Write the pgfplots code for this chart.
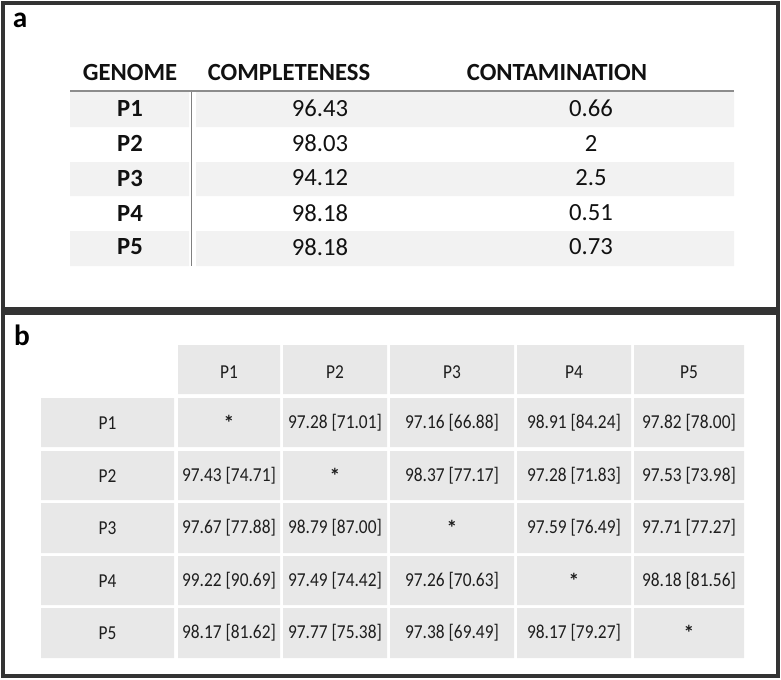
\documentclass[border=0pt]{standalone}
\usepackage{fontspec}
\setmainfont{Carlito}
\newfontfamily\narrowfont[FakeStretch=0.88]{Carlito}
\usepackage{pgfplots}
\pgfplotsset{compat=1.18}
\usepackage{pgfplotstable}
\definecolor{bord}{HTML}{333333}
\definecolor{bandA}{HTML}{F2F2F2}
\definecolor{cellB}{HTML}{E8E8E8}
\definecolor{txtA}{HTML}{111111}
\definecolor{txtB}{HTML}{1E1E1E}
\pgfplotsset{txt/.style={only marks, mark=none, nodes near coords, point meta=explicit symbolic,
  nodes near coords align=center,
  every node near coord/.append style={anchor=center, inner sep=0pt, #1}}}

% panel labels
\pgfplotstableread[col sep=comma, row sep=\\]{
x,y,label\\
20,20,a\\
22,335,b\\
}\panellabels

% panel a header
\pgfplotstableread[col sep=comma, row sep=\\]{
x,y,label\\
130,72,GENOME\\
289,72,COMPLETENESS\\
557,72,CONTAMINATION\\
130,108,P1\\
130,143,P2\\
130,178,P3\\
130,213,P4\\
130,247,P5\\
}\tabAbold

% panel a values: completeness (x=320) and contamination (x=591)
\pgfplotstableread[col sep=comma, row sep=\\]{
x,y,label\\
320,108,96.43\\
320,143,98.03\\
320,178,94.12\\
320,213,98.18\\
320,247,98.18\\
591,108,0.66\\
591,143,2\\
591,178,2.5\\
591,213,0.51\\
591,247,0.73\\
}\tabAvals

% panel b
\pgfplotstableread[col sep=comma, row sep=\\]{
x,y,label\\
229,372,P1\\
335,372,P2\\
452,372,P3\\
574,372,P4\\
689,372,P5\\
107.5,423,P1\\
107.5,476,P2\\
107.5,528,P3\\
107.5,581,P4\\
107.5,633,P5\\
335,423,97.28 [71.01]\\
452,423,97.16 [66.88]\\
574,423,98.91 [84.24]\\
689,423,97.82 [78.00]\\
229,476,97.43 [74.71]\\
452,476,98.37 [77.17]\\
574,476,97.28 [71.83]\\
689,476,97.53 [73.98]\\
229,528,97.67 [77.88]\\
335,528,98.79 [87.00]\\
574,528,97.59 [76.49]\\
689,528,97.71 [77.27]\\
229,581,99.22 [90.69]\\
335,581,97.49 [74.42]\\
452,581,97.26 [70.63]\\
689,581,98.18 [81.56]\\
229,633,98.17 [81.62]\\
335,633,97.77 [75.38]\\
452,633,97.38 [69.49]\\
574,633,98.17 [79.27]\\
}\tabB

% diagonal (self comparison) cells
\pgfplotstableread[col sep=comma, row sep=\\]{
x,y,label\\
229,423,*\\
335,476,*\\
452,528,*\\
574,581,*\\
689,633,*\\
}\tabBdiag

\begin{document}
\begin{tikzpicture}
\begin{axis}[width=585.75pt, height=509.25pt, scale only axis,
  xmin=0, xmax=781, ymin=0, ymax=679, y dir=reverse,
  axis lines=none, clip=false]
\path (axis cs:0,0) rectangle (axis cs:781,679);
% panel a bands
\fill[bandA] (axis cs:70,92) rectangle (axis cs:189,127)
             (axis cs:196,92) rectangle (axis cs:734,127)
             (axis cs:70,162) rectangle (axis cs:189,196)
             (axis cs:196,162) rectangle (axis cs:734,196)
             (axis cs:70,231) rectangle (axis cs:189,266)
             (axis cs:196,231) rectangle (axis cs:734,266);
\draw[black!45, line width=1.6pt] (axis cs:70,91) -- (axis cs:734,91);
\draw[black!50, line width=1.1pt] (axis cs:191.5,92) -- (axis cs:191.5,266);
% panel b cells
\fill[cellB]
 (axis cs:178,345) rectangle (axis cs:280,394)
 (axis cs:283,345) rectangle (axis cs:387,394)
 (axis cs:390,345) rectangle (axis cs:514,394)
 (axis cs:517,345) rectangle (axis cs:631,394)
 (axis cs:634,345) rectangle (axis cs:744,394)
 (axis cs:41,398) rectangle (axis cs:174,447)
 (axis cs:178,398) rectangle (axis cs:280,447)
 (axis cs:283,398) rectangle (axis cs:387,447)
 (axis cs:390,398) rectangle (axis cs:514,447)
 (axis cs:517,398) rectangle (axis cs:631,447)
 (axis cs:634,398) rectangle (axis cs:744,447)
 (axis cs:41,451) rectangle (axis cs:174,500)
 (axis cs:178,451) rectangle (axis cs:280,500)
 (axis cs:283,451) rectangle (axis cs:387,500)
 (axis cs:390,451) rectangle (axis cs:514,500)
 (axis cs:517,451) rectangle (axis cs:631,500)
 (axis cs:634,451) rectangle (axis cs:744,500)
 (axis cs:41,503) rectangle (axis cs:174,553)
 (axis cs:178,503) rectangle (axis cs:280,553)
 (axis cs:283,503) rectangle (axis cs:387,553)
 (axis cs:390,503) rectangle (axis cs:514,553)
 (axis cs:517,503) rectangle (axis cs:631,553)
 (axis cs:634,503) rectangle (axis cs:744,553)
 (axis cs:41,556) rectangle (axis cs:174,605)
 (axis cs:178,556) rectangle (axis cs:280,605)
 (axis cs:283,556) rectangle (axis cs:387,605)
 (axis cs:390,556) rectangle (axis cs:514,605)
 (axis cs:517,556) rectangle (axis cs:631,605)
 (axis cs:634,556) rectangle (axis cs:744,605)
 (axis cs:41,608) rectangle (axis cs:174,658)
 (axis cs:178,608) rectangle (axis cs:280,658)
 (axis cs:283,608) rectangle (axis cs:387,658)
 (axis cs:390,608) rectangle (axis cs:514,658)
 (axis cs:517,608) rectangle (axis cs:631,658)
 (axis cs:634,608) rectangle (axis cs:744,658);
% panel borders
\draw[bord, line width=2.4pt] (axis cs:3,3) rectangle (axis cs:778,309);
\draw[bord, line width=2.4pt] (axis cs:3,313) rectangle (axis cs:778,676);
% texts
\addplot[txt={font=\fontsize{22}{24}\selectfont\bfseries, text=black}] table[x=x, y=y, meta=label] {\panellabels};
\addplot[txt={font=\fontsize{18.5}{20}\selectfont\bfseries, text=txtA}] table[x=x, y=y, meta=label] {\tabAbold};
\addplot[txt={font=\fontsize{18.5}{20}\selectfont, text=txtA}] table[x=x, y=y, meta=label] {\tabAvals};
\addplot[txt={font=\narrowfont\fontsize{14.8}{16}\selectfont, text=txtB}] table[x=x, y=y, meta=label] {\tabB};
\addplot[txt={font=\fontsize{16}{18}\selectfont\bfseries, text=txtB}] table[x=x, y=y, meta=label] {\tabBdiag};
\end{axis}
\end{tikzpicture}
\end{document}
